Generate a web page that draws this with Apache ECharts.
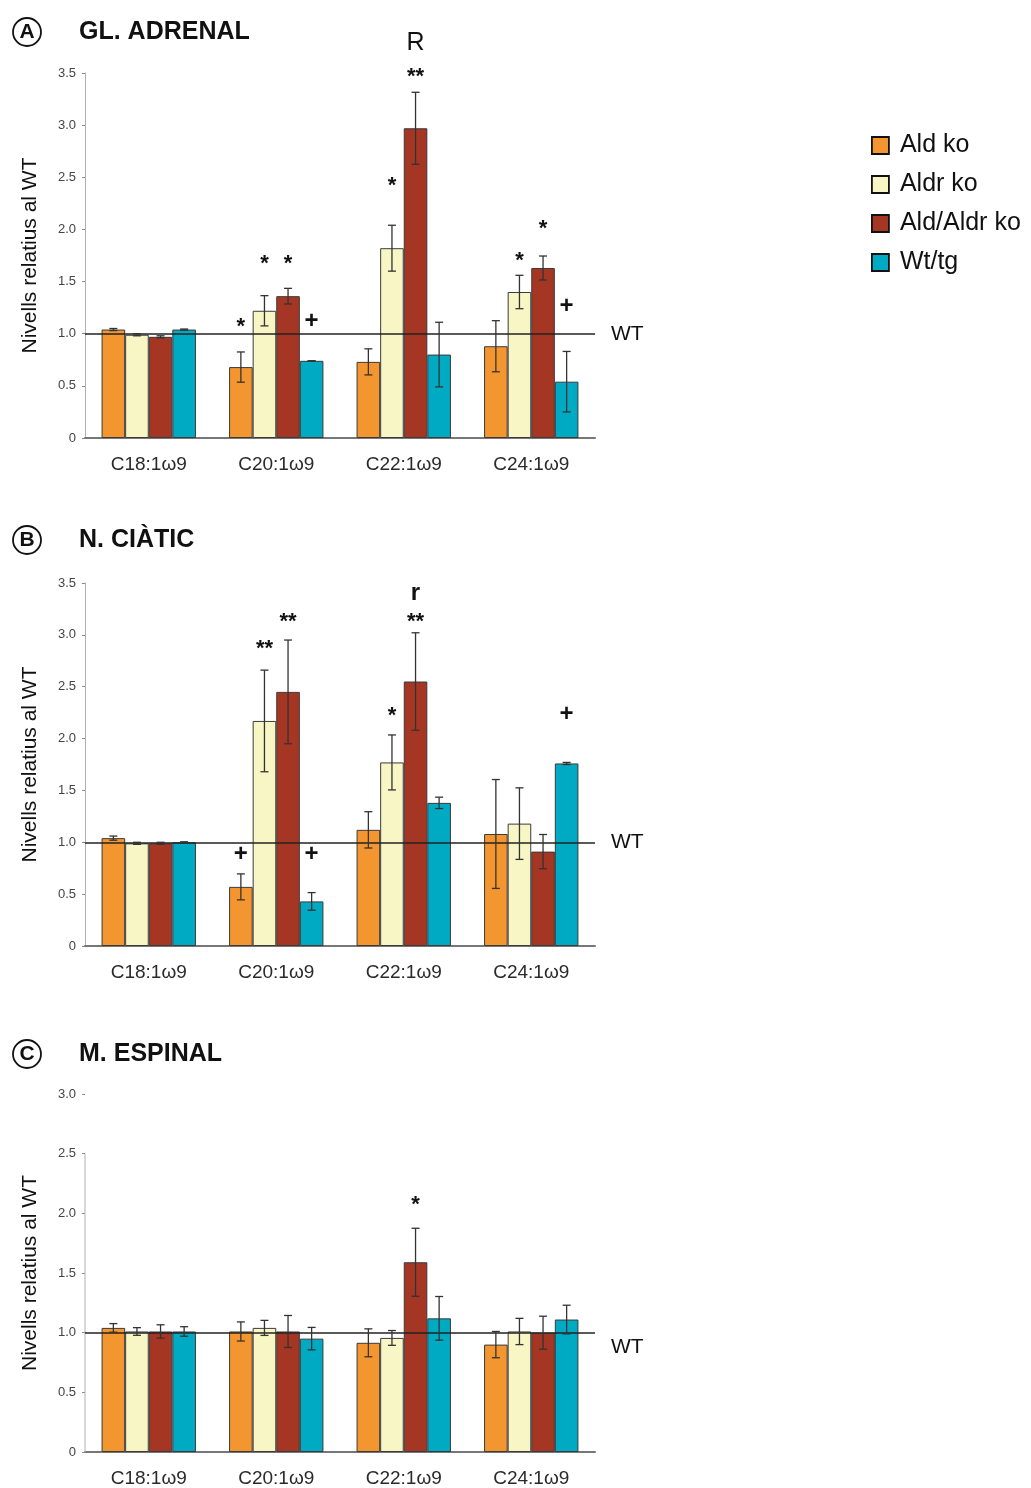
<!DOCTYPE html>
<html><head><meta charset="utf-8">
<script src="https://cdn.jsdelivr.net/npm/echarts@6/dist/echarts.min.js"></script>
<style>html,body{margin:0;padding:0;background:#fff}#c{width:1031px;height:1488px}</style>
</head><body><div id="c"></div>
<script>
// ---- data ----
const categories = ['C18:1ω9', 'C20:1ω9', 'C22:1ω9', 'C24:1ω9'];
const seriesNames = ['Ald ko', 'Aldr ko', 'Ald/Aldr ko', 'Wt/tg'];
const yTicks = [0, 0.5, 1.0, 1.5, 2.0, 2.5, 3.0, 3.5];

// A: GL. ADRENAL
const adrenalAldKo    = [1.04, 0.68, 0.73, 0.88];
const adrenalAldrKo   = [0.99, 1.22, 1.82, 1.40];
const adrenalDoubleKo = [0.97, 1.36, 2.97, 1.63];
const adrenalWtTg     = [1.04, 0.74, 0.80, 0.54];
const adrenalAldKoErr    = [0.01, 0.145, 0.125, 0.245];
const adrenalAldrKoErr   = [0.01, 0.145, 0.22, 0.16];
const adrenalDoubleKoErr = [0.01, 0.075, 0.345, 0.115];
const adrenalWtTgErr     = [0.005, 0, 0.31, 0.29];
// [category, series, level, text]
const adrenalMarks = [[1,0,1.12,'*'],[1,1,1.73,'*'],[1,2,1.73,'*'],[1,3,1.12,'+'],
  [2,1,2.47,'*'],[2,2,3.52,'**'],[2,2,3.79,'R'],[3,1,1.76,'*'],[3,2,2.06,'*'],[3,3,1.26,'+']];

// B: N. CIÀTIC
const sciaticAldKo    = [1.04, 0.57, 1.12, 1.08];
const sciaticAldrKo   = [0.99, 2.17, 1.77, 1.18];
const sciaticDoubleKo = [0.99, 2.45, 2.55, 0.91];
const sciaticWtTg     = [1.00, 0.43, 1.38, 1.76];
const sciaticAldKoErr    = [0.02, 0.125, 0.175, 0.525];
const sciaticAldrKoErr   = [0.01, 0.49, 0.265, 0.345];
const sciaticDoubleKoErr = [0.01, 0.5, 0.47, 0.165];
const sciaticWtTgErr     = [0.005, 0.085, 0.055, 0.01];
const sciaticMarks = [[1,0,0.88,'+'],[1,1,2.92,'**'],[1,2,3.18,'**'],[1,3,0.88,'+'],
  [2,1,2.28,'*'],[2,2,3.18,'**'],[2,2,3.40,'r'],[3,3,2.23,'+']];

// C: M. ESPINAL
const spinalAldKo    = [1.04, 1.01, 0.915, 0.90];
const spinalAldrKo   = [1.01, 1.04, 0.956, 1.01];
const spinalDoubleKo = [1.01, 1.01, 1.59, 1.00];
const spinalWtTg     = [1.01, 0.95, 1.12, 1.11];
const spinalAldKoErr    = [0.036, 0.08, 0.117, 0.11];
const spinalAldrKoErr   = [0.032, 0.063, 0.062, 0.11];
const spinalDoubleKoErr = [0.056, 0.134, 0.285, 0.138];
const spinalWtTgErr     = [0.04, 0.094, 0.183, 0.12];
const spinalMarks = [[2,2,2.12,'*']];

// ---- build ----
const colors = ['#F4962F', '#F8F6C5', '#A63624', '#00AAC3'];
const FONT = 'Liberation Sans';
const GAP = 0.26;

const panels = [
  { letter:'A', title:'GL. ADRENAL', titleTop:18, top:73, height:365, max:3.5, axisTop:3.5,
    values:[adrenalAldKo, adrenalAldrKo, adrenalDoubleKo, adrenalWtTg],
    errs:[adrenalAldKoErr, adrenalAldrKoErr, adrenalDoubleKoErr, adrenalWtTgErr],
    marks:adrenalMarks, wtOffset:0 },
  { letter:'B', title:'N. CIÀTIC', titleTop:526, top:583, height:363, max:3.5, axisTop:3.5,
    values:[sciaticAldKo, sciaticAldrKo, sciaticDoubleKo, sciaticWtTg],
    errs:[sciaticAldKoErr, sciaticAldrKoErr, sciaticDoubleKoErr, sciaticWtTgErr],
    marks:sciaticMarks, wtOffset:0 },
  { letter:'C', title:'M. ESPINAL', titleTop:1040, top:1094, height:362, max:3.0, axisTop:2.5,
    values:[spinalAldKo, spinalAldrKo, spinalDoubleKo, spinalWtTg],
    errs:[spinalAldKoErr, spinalAldrKoErr, spinalDoubleKoErr, spinalWtTgErr],
    marks:spinalMarks, wtOffset:15 }
];

function barX(api, cat, s) {
  const band = api.size([1, 0])[0];
  const bw = band * (1 - GAP) / 4;
  return api.coord([cat, 0])[0] - band * (1 - GAP) / 2 + bw * (s + 0.5);
}

function errRender(params, api) {
  const cat = api.value(0), s = api.value(1), v = api.value(2), e = api.value(3);
  const x = barX(api, cat, s);
  const t = api.coord([cat, v + e])[1], b = api.coord([cat, v - e])[1];
  const st = { stroke:'#333', lineWidth:1.3 };
  return { type:'group', children:[
    { type:'line', shape:{x1:x, y1:t, x2:x, y2:b}, style:st },
    { type:'line', shape:{x1:x-4, y1:t, x2:x+4, y2:t}, style:st },
    { type:'line', shape:{x1:x-4, y1:b, x2:x+4, y2:b}, style:st }
  ]};
}

function markRender(params, api, marks) {
  const cat = api.value(0), s = api.value(1), lv = api.value(2);
  const txt = marks[params.dataIndex][3];
  const x = barX(api, cat, s);
  let y = api.coord([cat, lv])[1];
  let font = { fontSize:20, fontWeight:'normal' };
  if (txt.indexOf('*') >= 0) { y += 6; font = { fontSize:22, fontWeight:'bold' }; }
  else if (txt === '+') { font = { fontSize:24, fontWeight:'bold' }; }
  else if (txt === 'R') { font = { fontSize:25, fontWeight:'normal' }; }
  else if (txt === 'r') { font = { fontSize:24, fontWeight:'bold' }; }
  return { type:'text', style:{ x:x, y:y, text:txt, fill:'#111', align:'center', verticalAlign:'middle',
    font: font.fontWeight + ' ' + font.fontSize + 'px "' + FONT + '"' } };
}

function axisRender(params, api) {
  const cs = params.coordSys;
  const top = api.coord([0, api.value(1)])[1], bot = api.coord([0, 0])[1];
  return { type:'line', shape:{x1:cs.x, y1:top, x2:cs.x, y2:bot}, style:{stroke:'#b0b0b0', lineWidth:1} };
}

const option = {
  animation:false, backgroundColor:'#fff',
  title: panels.map(p => ({
    text:'{c|' + p.letter + '}{t|' + p.title + '}', left:13, top:p.titleTop, padding:0,
    textStyle:{ rich:{
      c:{ fontSize:21, fontFamily:FONT, color:'#111', width:28, height:28, lineHeight:28, align:'center',
          borderColor:'#111', borderWidth:1.8, borderRadius:15 },
      t:{ fontSize:25, fontWeight:'bold', fontFamily:FONT, color:'#111', padding:[0,0,0,38] }
    }}
  })),
  legend:{ orient:'vertical', left:866, top:128, itemWidth:17, itemHeight:17, itemGap:14,
    data:seriesNames, icon:'rect',
    itemStyle:{ borderColor:'#111', borderWidth:1.8 },
    textStyle:{ fontSize:25, fontFamily:FONT, color:'#111', padding:[0,0,0,6] } },
  grid: panels.map(p => ({ left:85, width:510, top:p.top, height:p.height })),
  xAxis: panels.map((p, i) => ({ type:'category', gridIndex:i, data:categories,
    axisTick:{show:false}, axisLine:{ lineStyle:{ color:'#777', width:2 } },
    axisLabel:{ fontSize:19, fontFamily:FONT, color:'#2a2a2a', margin:17 } })),
  yAxis: panels.map((p, i) => ({ type:'value', gridIndex:i, min:0, max:p.max, interval:0.5,
    name:'Nivells relatius al WT', nameLocation:'middle', nameGap:44,
    nameTextStyle:{ fontSize:21, fontFamily:FONT, color:'#111' },
    splitLine:{show:false},
    axisLine:{ show: p.axisTop === p.max, lineStyle:{ color:'#b0b0b0', width:1 } },
    axisTick:{ show:true, length:3, lineStyle:{ color:'#888' } },
    axisLabel:{ fontSize:13, fontFamily:FONT, color:'#444', margin:9,
      formatter: v => v === 0 ? '0' : v.toFixed(1) } })),
  series: []
};

panels.forEach((p, gi) => {
  p.values.forEach((vals, s) => {
    const ser = { type:'bar', name:seriesNames[s], xAxisIndex:gi, yAxisIndex:gi, data:vals,
      barGap:'0%', barCategoryGap:(GAP*100)+'%',
      itemStyle:{ color:colors[s], borderColor:'#3a3a3a', borderWidth:1 } };
    if (s === 0) {
      ser.markLine = { symbol:'none', silent:true, animation:false,
        lineStyle:{ color:'#222', width:1.6, type:'solid' },
        label:{ formatter:'WT', position:'end', distance:16, fontSize:21, fontFamily:FONT, color:'#111',
                offset:[0, p.wtOffset] },
        data:[{ yAxis:1 }] };
    }
    option.series.push(ser);
  });
  const errData = [];
  p.values.forEach((vals, s) => vals.forEach((v, c) => errData.push([c, s, v, p.errs[s][c]])));
  option.series.push({ type:'custom', xAxisIndex:gi, yAxisIndex:gi, renderItem:errRender,
    data:errData, z:5, silent:true });
  option.series.push({ type:'custom', xAxisIndex:gi, yAxisIndex:gi,
    renderItem:(params, api) => markRender(params, api, p.marks),
    data:p.marks.map(m => [m[0], m[1], m[2]]), z:6, silent:true, clip:false });
  if (p.axisTop !== p.max) {
    option.series.push({ type:'custom', xAxisIndex:gi, yAxisIndex:gi, renderItem:axisRender,
      data:[[0, p.axisTop]], z:4, silent:true });
  }
});

const chart = echarts.init(document.getElementById('c'), null, { renderer:'canvas' });
chart.setOption(option);
</script>
</body></html>
